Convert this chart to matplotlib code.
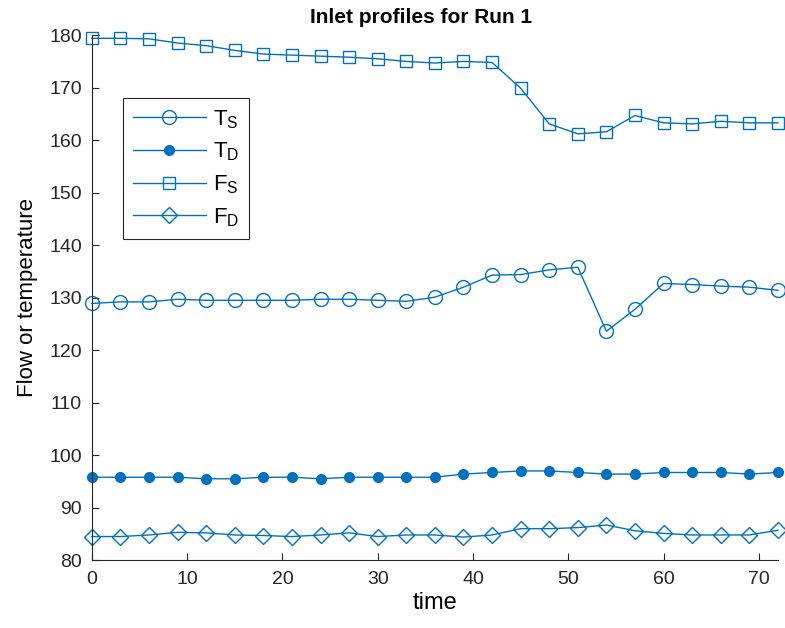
import numpy as np
import matplotlib
matplotlib.use("Agg")
import matplotlib.pyplot as plt

plt.rcParams['font.family'] = ['Liberation Sans', 'DejaVu Sans']
plt.rcParams['mathtext.fontset'] = 'custom'
plt.rcParams['mathtext.rm'] = 'Liberation Sans'

# ---- data ----
time = np.arange(0, 73, 3)
T_S = [128.9, 129.2, 129.2, 129.7, 129.5, 129.5, 129.5, 129.5, 129.7, 129.7,
       129.5, 129.3, 130.1, 132.0, 134.3, 134.4, 135.3, 135.8, 123.6, 127.8,
       132.7, 132.5, 132.2, 132.0, 131.4]
T_D = [95.8, 95.8, 95.8, 95.8, 95.5, 95.5, 95.8, 95.8, 95.5, 95.8,
       95.8, 95.8, 95.8, 96.4, 96.7, 97.0, 97.0, 96.7, 96.4, 96.4,
       96.7, 96.7, 96.7, 96.4, 96.7]
F_S = [179.4, 179.4, 179.3, 178.5, 178.0, 177.1, 176.4, 176.2, 176.0, 175.8,
       175.5, 175.0, 174.7, 175.0, 174.8, 169.9, 163.1, 161.2, 161.6, 164.7,
       163.3, 163.1, 163.6, 163.3, 163.3]
F_D = [84.5, 84.5, 84.8, 85.3, 85.2, 84.8, 84.7, 84.5, 84.8, 85.2,
       84.5, 84.8, 84.8, 84.4, 84.8, 86.0, 86.0, 86.2, 86.7, 85.6,
       85.1, 84.8, 84.8, 84.8, 85.7]

col = '#0072BD'

fig = plt.figure(figsize=(7.85, 6.28), dpi=100)
ax = fig.add_axes([0.117, 0.108, 0.874, 0.836])

ax.plot(time, T_S, '-o', color=col, lw=1, ms=10, mfc='none', mew=1,
        clip_on=False, label=r'T$_\mathregular{S}$')
ax.plot(time, T_D, '-o', color=col, lw=1, ms=7, mfc=col, mew=1,
        clip_on=False, label=r'T$_\mathregular{D}$')
ax.plot(time, F_S, '-s', color=col, lw=1, ms=9, mfc='none', mew=1,
        clip_on=False, label=r'F$_\mathregular{S}$')
ax.plot(time, F_D, '-D', color=col, lw=1, ms=8, mfc='none', mew=1,
        clip_on=False, label=r'F$_\mathregular{D}$')

ax.set_xlim(0, 72)
ax.set_ylim(80, 180)
ax.set_xticks(np.arange(0, 71, 10))
ax.set_yticks(np.arange(80, 181, 10))
ax.spines['top'].set_visible(False)
ax.spines['right'].set_visible(False)
for s in ['left', 'bottom']:
    ax.spines[s].set_color('#262626')
ax.tick_params(direction='in', labelsize=14, colors='#262626', length=5)
ax.tick_params(axis='x', pad=8)
ax.tick_params(axis='y', pad=7)

ax.set_title('Inlet profiles for Run 1', fontsize=15, fontweight='bold',
             pad=9, x=0.48)
ax.set_xlabel('time', fontsize=17, labelpad=3)
ax.set_ylabel('Flow or temperature', fontsize=16, labelpad=8)

leg = ax.legend(loc='upper left', bbox_to_anchor=(0.045, 0.88), fontsize=16,
                fancybox=False, framealpha=1, edgecolor='#262626',
                borderaxespad=0, handlelength=3.3, handletextpad=0.3,
                labelspacing=0.45, borderpad=0.45)
leg.get_frame().set_linewidth(0.8)

fig.savefig('out.png', dpi=100)
